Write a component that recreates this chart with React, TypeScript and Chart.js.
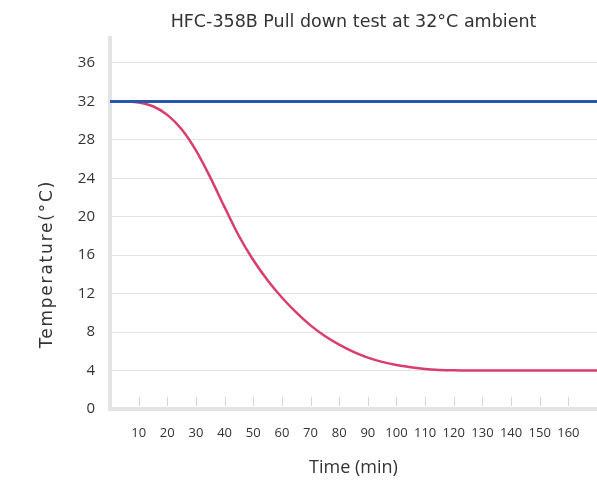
import { useEffect, useRef } from "react";
import { Chart, registerables } from "chart.js";

Chart.register(...registerables);

const chartTitle = "HFC-358B Pull down test at 32°C ambient";
const xTitle = "Time (min)";
const yTitle = "Temperature(°C)";

const timeMin = [0, 5, 10, 15, 20, 25, 30, 35, 40, 45, 50, 55, 60, 65, 70, 75, 80, 85, 90, 95, 100, 105, 110, 115, 120, 125, 130, 140, 150, 160, 170];
const pullDownTemp = [32.0, 32.0, 31.9, 31.5, 30.6, 29.1, 26.9, 24.1, 21.0, 18.0, 15.5, 13.4, 11.6, 10.05, 8.7, 7.6, 6.7, 5.95, 5.35, 4.9, 4.58, 4.35, 4.17, 4.07, 4.02, 4.0, 4.0, 4.0, 4.0, 4.0, 4.0];

const ambientTime = [0, 170];
const ambientTemp = [32, 32];

const xTickValues = [10, 20, 30, 40, 50, 60, 70, 80, 90, 100, 110, 120, 130, 140, 150, 160];
const yTickValues = [0, 4, 8, 12, 16, 20, 24, 28, 32, 36];

const FONT = "'Open Sans', 'DejaVu Sans', sans-serif";

const innerTicks = {
  id: "innerTicks",
  afterDraw(chart: any) {
    const { ctx, chartArea } = chart;
    const x = chart.scales.x;
    ctx.save();
    ctx.strokeStyle = "#d6d6d6";
    ctx.lineWidth = 1;
    xTickValues.forEach((v) => {
      const px = Math.round(x.getPixelForValue(v)) + 0.5;
      ctx.beginPath();
      ctx.moveTo(px, chartArea.bottom - 12);
      ctx.lineTo(px, chartArea.bottom - 3);
      ctx.stroke();
    });
    ctx.restore();
  },
};

const yAxisTitle = {
  id: "yAxisTitle",
  afterDraw(chart: any) {
    const { ctx } = chart;
    ctx.save();
    ctx.translate(48, 264);
    ctx.rotate(-Math.PI / 2);
    ctx.font = "17px 'DejaVu Sans', sans-serif";
    try {
      (ctx as any).letterSpacing = "1.8px";
    } catch (e) {}
    ctx.fillStyle = "#333333";
    ctx.textAlign = "center";
    ctx.textBaseline = "middle";
    ctx.fillText(yTitle, 0, 0);
    ctx.restore();
  },
};

export default function App() {
  const ref = useRef<HTMLCanvasElement | null>(null);

  useEffect(() => {
    if (!ref.current) return;
    const chart = new Chart(ref.current, {
      type: "line",
      data: {
        datasets: [
          {
            label: "Ambient",
            data: ambientTime.map((t, i) => ({ x: t, y: ambientTemp[i] })),
            borderColor: "#2a58a8",
            borderWidth: 3,
            pointRadius: 0,
            fill: false,
          },
          {
            label: "Pull down",
            data: timeMin.map((t, i) => ({ x: t, y: pullDownTemp[i] })),
            borderColor: "#d83d6c",
            borderWidth: 2.5,
            pointRadius: 0,
            fill: false,
            cubicInterpolationMode: "monotone",
          },
        ],
      },
      options: {
        responsive: false,
        animation: false,
        layout: { padding: 0 },
        plugins: {
          legend: { display: false },
          tooltip: { enabled: false },
          title: {
            display: true,
            text: chartTitle,
            fullSize: false,
            color: "#333333",
            font: { family: "'DejaVu Sans', sans-serif", size: 17.5, weight: "normal" },
            padding: { top: 12, bottom: 5 },
          },
        },
        scales: {
          x: {
            type: "linear",
            min: 0,
            max: 170,
            afterBuildTicks: (scale: any) => {
              scale.ticks = xTickValues.map((v) => ({ value: v }));
            },
            afterFit: (scale: any) => {
              scale.height = 73;
            },
            grid: { drawOnChartArea: false, drawTicks: false },
            border: { display: true, color: "#e4e4e4", width: 4 },
            ticks: {
              color: "#333333",
              font: { family: FONT, size: 13 },
              padding: 16,
              maxRotation: 0,
              autoSkip: false,
            },
            title: {
              display: true,
              text: xTitle,
              color: "#333333",
              font: { family: FONT, size: 18 },
              padding: { top: 0, bottom: 3 },
            },
          },
          y: {
            type: "linear",
            min: 0,
            max: 38.6,
            afterBuildTicks: (scale: any) => {
              scale.ticks = yTickValues.map((v) => ({ value: v }));
            },
            afterFit: (scale: any) => {
              scale.width = 110;
            },
            grid: { color: "#e2e2e2", lineWidth: 1, drawTicks: false },
            border: { display: true, color: "#e4e4e4", width: 4 },
            ticks: {
              color: "#333333",
              font: { family: FONT, size: 15 },
              padding: 15,
            },
            title: { display: false, text: yTitle },
          },
        },
      },
      plugins: [innerTicks, yAxisTitle],
    } as any);
    return () => chart.destroy();
  }, []);

  return (
    <div style={{ position: "absolute", left: 0, top: 0, width: 597, height: 482, background: "#fff" }}>
      <canvas ref={ref} width={597} height={482} style={{ display: "block" }} />
    </div>
  );
}
